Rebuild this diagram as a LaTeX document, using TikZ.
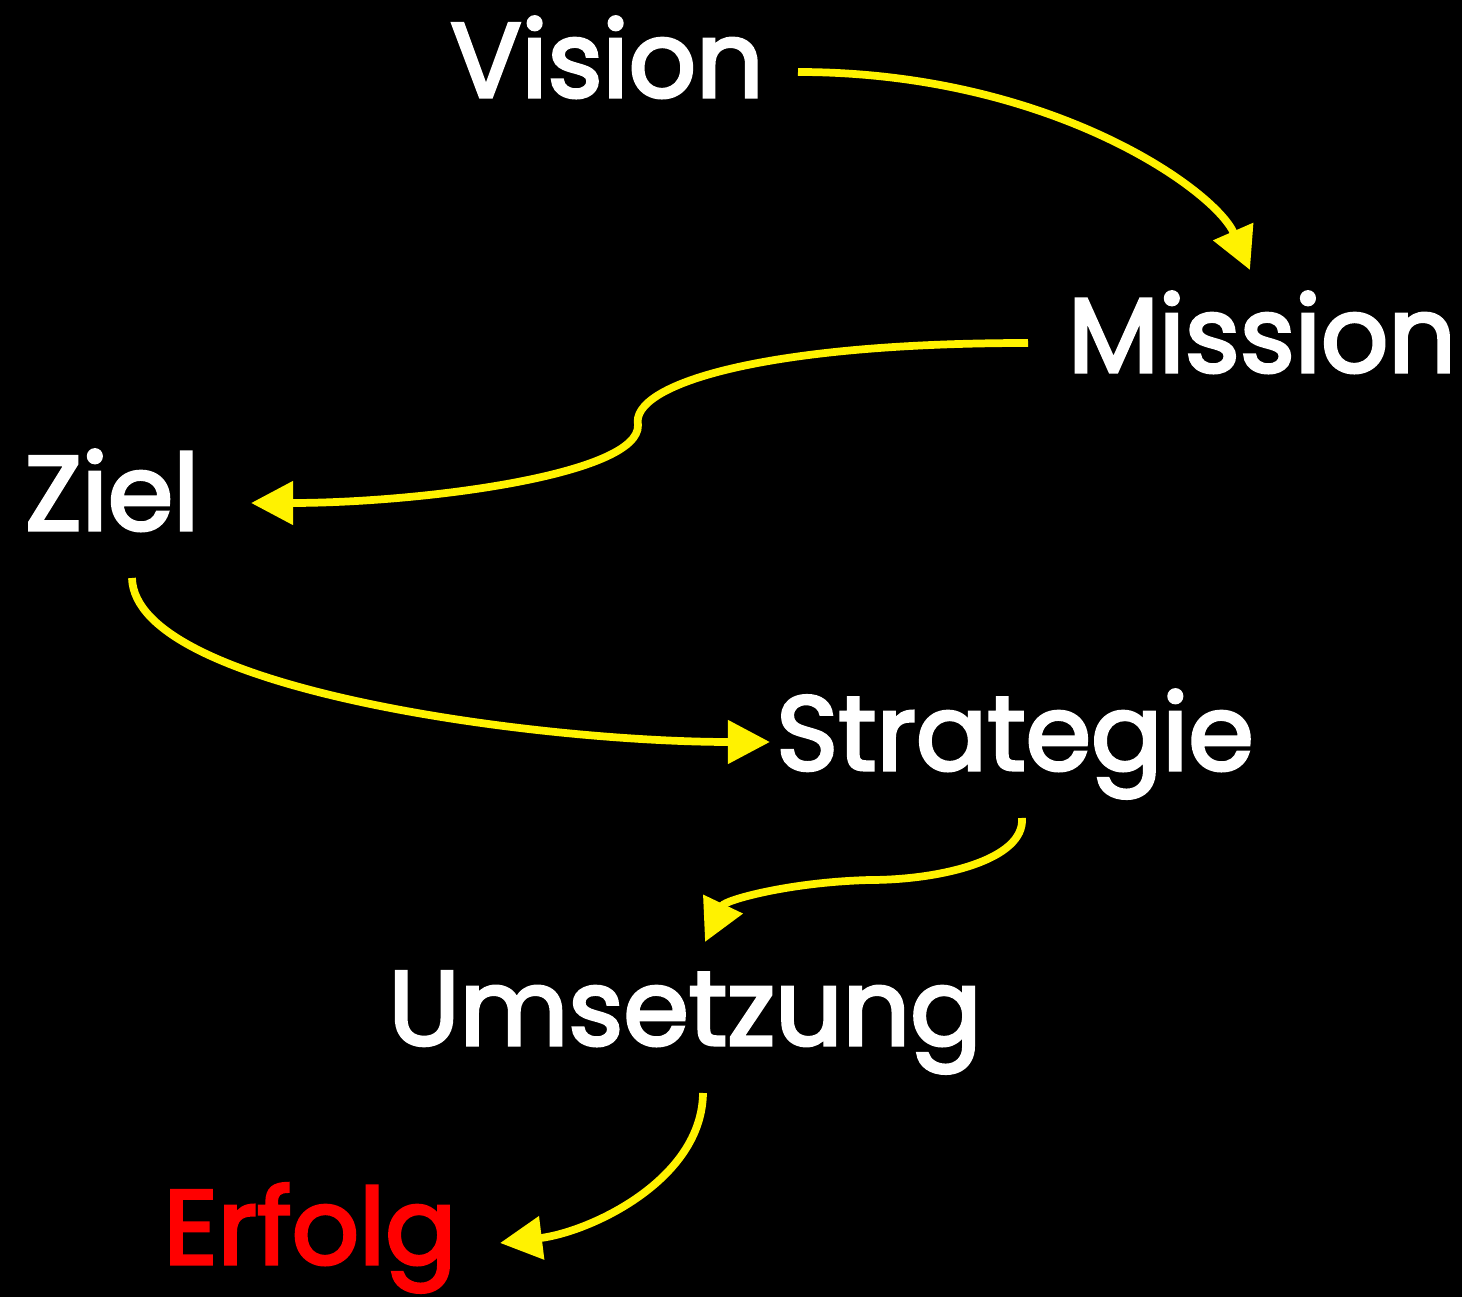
\documentclass[tikz,border=0pt]{standalone}
\usepackage{fontspec}
\setmainfont{Poppins}[FakeBold=3]
\usetikzlibrary{arrows.meta}
\begin{document}
\begin{tikzpicture}[x=0.01cm,y=-0.01cm,
  word/.style={text=white,font=\fontsize{30}{36}\selectfont,anchor=base,inner sep=0pt},
  conn/.style={draw=yellow,line width=2.2pt,-{Triangle[length=0.42cm,width=0.42cm]},fill=none}]
\fill[black] (0,0) rectangle (1462,1297);
\useasboundingbox (0,0) rectangle (1462,1297);
\node[word] (vision) at (607,97) {Vision};
\node[word] (mission) at (1262,372) {Mission};
\node[word] (ziel) at (112,530) {Ziel};
\node[word] (strategie) at (1015,770) {Strategie};
\node[word] (umsetzung) at (685,1045) {Umsetzung};
\node[word,text=red] (erfolg) at (310,1264) {Erfolg};
\coordinate (a1s) at (798,72);
\coordinate (a1e) at (1250,270);
\coordinate (a2s) at (1028,343);
\coordinate (a2m) at (638,425);
\coordinate (a2e) at (251,503);
\coordinate (a3s) at (132,578);
\coordinate (a3e) at (770,742);
\coordinate (a4s) at (1022,818);
\coordinate (a4m) at (870,880);
\coordinate (a4e) at (705,942);
\coordinate (a5s) at (703,1093);
\coordinate (a5e) at (500,1243);
\draw[conn] (a1s) .. controls (1050,72) and (1215,190) .. (a1e);
\draw[conn] (a2s) .. controls (760,343) and (630,385) .. (a2m) .. controls (640,475) and (420,503) .. (a2e);
\draw[conn] (a3s) .. controls (135,690) and (540,742) .. (a3e);
\draw[conn] (a4s) .. controls (1025,860) and (940,880) .. (a4m) .. controls (790,882) and (725,900) .. (a4e);
\draw[conn] (a5s) .. controls (702,1180) and (590,1232) .. (a5e);
\end{tikzpicture}
\end{document}
